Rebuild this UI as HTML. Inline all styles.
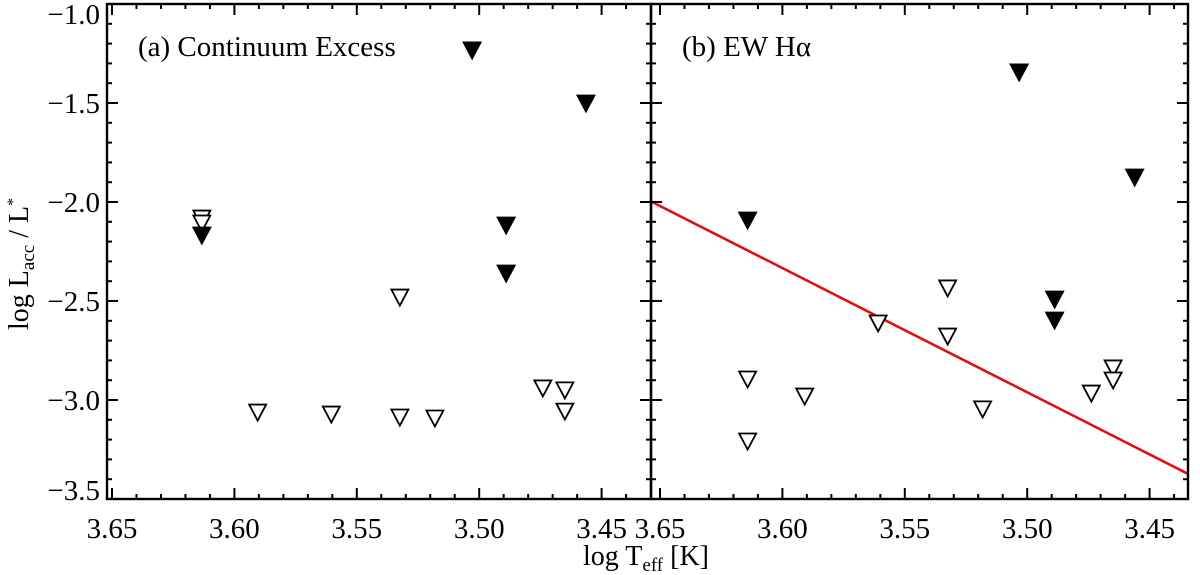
<!DOCTYPE html>
<html><head><meta charset="utf-8"><style>
html,body{margin:0;padding:0;background:#fff;}
svg{display:block;font-family:"Liberation Serif",serif;}
</style></head><body>
<svg id="chart" width="1200" height="575" viewBox="0 0 1200 575"></svg>
<script>
// Panel (a) Continuum Excess
const aOpenTeff = [3.6133, 3.6133, 3.5905, 3.5604, 3.5324, 3.5324, 3.5181, 3.4740, 3.4650, 3.4650];
const aOpenLacc = [-2.081, -2.106, -3.061, -3.071, -2.480, -3.086, -3.091, -2.939, -2.949, -3.056];
const aFillTeff = [3.6133, 3.4890, 3.4890, 3.5029, 3.4564];
const aFillLacc = [-2.167, -2.116, -2.359, -1.232, -1.500];
// Panel (b) EW Halpha
const bOpenTeff = [3.6142, 3.6142, 3.5909, 3.5609, 3.5325, 3.5325, 3.5182, 3.4738, 3.4649, 3.4649];
const bOpenLacc = [-2.894, -3.207, -2.980, -2.611, -2.434, -2.677, -3.045, -2.965, -2.838, -2.899];
const bFillTeff = [3.6142, 3.4888, 3.4888, 3.5033, 3.4561];
const bFillLacc = [-2.091, -2.490, -2.596, -1.343, -1.874];
const lineTeff = [3.654, 3.434];
const lineLacc = [-1.995, -3.375];
const xTicks = [3.65, 3.60, 3.55, 3.50, 3.45];
const xTickLabels = ["3.65", "3.60", "3.55", "3.50", "3.45"];
const yTicks = [-1.0, -1.5, -2.0, -2.5, -3.0, -3.5];
const yTickLabels = ["\u22121.0", "\u22121.5", "\u22122.0", "\u22122.5", "\u22123.0", "\u22123.5"];

const NS = "http://www.w3.org/2000/svg";
const svg = document.getElementById("chart");
function mk(tag, attrs, parent) {
  const e = document.createElementNS(NS, tag);
  for (const k in attrs) e.setAttribute(k, attrs[k]);
  (parent || svg).appendChild(e);
  return e;
}
const yTop = 4, yBot = 499;
function yScale(v) { return yTop + (-1.0 - v) * 198; }
const panels = [
  { x0: 107, x1: 651, x365: 112, name: "panel-a", title: "(a) Continuum Excess",
    open: [aOpenTeff, aOpenLacc], fill: [aFillTeff, aFillLacc], line: false, yLabels: true },
  { x0: 651, x1: 1188, x365: 660, name: "panel-b", title: "(b) EW H\u03b1",
    open: [bOpenTeff, bOpenLacc], fill: [bFillTeff, bFillLacc], line: true, yLabels: false }
];
function tri(g, cx, cy, filled, name) {
  const p = mk("polygon", {
    points: `${cx-8.5},${cy-7.5} ${cx+8.5},${cy-7.5} ${cx},${cy+8.5}`,
    fill: filled ? "#000" : "#fff", stroke: "#000", "stroke-width": 1.8
  }, g);
  
  
}
panels.forEach(P => {
  const xs = v => P.x365 + (3.65 - v) / 0.05 * 122.4;
  const g = mk("g", {});
  
  
  const clipId = P.name + "-clip";
  const cp = mk("clipPath", { id: clipId }, g);
  mk("rect", { x: P.x0, y: yTop, width: P.x1 - P.x0, height: yBot - yTop }, cp);
  const data = mk("g", { "clip-path": `url(#${clipId})` }, g);
  
  
  if (P.line) {
    const l = mk("line", { x1: xs(lineTeff[0]), y1: yScale(lineLacc[0]), x2: xs(lineTeff[1]), y2: yScale(lineLacc[1]),
      stroke: "#e01010", "stroke-width": 2.6 }, data);
    
    
  }
  for (let i = 0; i < P.open[0].length; i++) tri(data, xs(P.open[0][i]), yScale(P.open[1][i]), false, 'upper-limit-open');
  for (let i = 0; i < P.fill[0].length; i++) tri(data, xs(P.fill[0][i]), yScale(P.fill[1][i]), true, 'upper-limit-filled');
  const fr = mk("rect", { x: P.x0, y: yTop, width: P.x1 - P.x0, height: yBot - yTop, fill: "none", stroke: "#000", "stroke-width": 2.4 }, g);
  
  
  for (let k = 0; k <= 25; k++) {
    const v = 3.66 - k * 0.01;
    const x = xs(v);
    if (x < P.x0 + 1 || x > P.x1 - 1) continue;
    const major = Math.abs(Math.round(v * 100) % 5) === 0;
    const len = major ? 11 : 5;
    mk("line", { x1: x, y1: yBot, x2: x, y2: yBot - len, stroke: "#000", "stroke-width": 2 }, g);
    mk("line", { x1: x, y1: yTop, x2: x, y2: yTop + len, stroke: "#000", "stroke-width": 2 }, g);
  }
  xTicks.forEach((v, i) => {
    const t = mk("text", { x: xs(v), y: 538, "text-anchor": "middle", "font-size": 29 }, g);
    t.textContent = xTickLabels[i];
    
    
  });
  for (let k = 0; k <= 25; k++) {
    const v = -1.0 - k * 0.1;
    const y = yScale(v);
    const major = k % 5 === 0;
    const len = major ? 11 : 5;
    mk("line", { x1: P.x0, y1: y, x2: P.x0 + len, y2: y, stroke: "#000", "stroke-width": 2 }, g);
    mk("line", { x1: P.x1, y1: y, x2: P.x1 - len, y2: y, stroke: "#000", "stroke-width": 2 }, g);
  }
  if (P.yLabels) {
    yTicks.forEach((v, i) => {
      let y = yScale(v) + 10;
      if (i === 0) y = 24;
      if (i === yTicks.length - 1) y = 500;
      const t = mk("text", { x: 100, y: y, "text-anchor": "end", "font-size": 29 }, g);
      t.textContent = yTickLabels[i];
      
      
    });
  }
  const tt = mk("text", { x: P.x0 + 31, y: 56, "font-size": 29 }, g);
  tt.textContent = P.title;
  
  
});
</script>
<div style="position:absolute;left:0;top:0;width:1200px;height:575px;pointer-events:none;">
<svg width="1200" height="575" style="position:absolute;left:0;top:0;font-family:'Liberation Serif',serif;">
  <text x="583" y="565" font-size="28">log T<tspan font-size="19" dy="6">eff</tspan><tspan dy="-6"> [K]</tspan></text>
  <text transform="translate(28,330) rotate(-90)" font-size="28">log L<tspan font-size="19" dy="6">acc</tspan><tspan dy="-6"> / L</tspan><tspan font-size="16" dy="-10">*</tspan></text>
</svg>
</div>
</body></html>
